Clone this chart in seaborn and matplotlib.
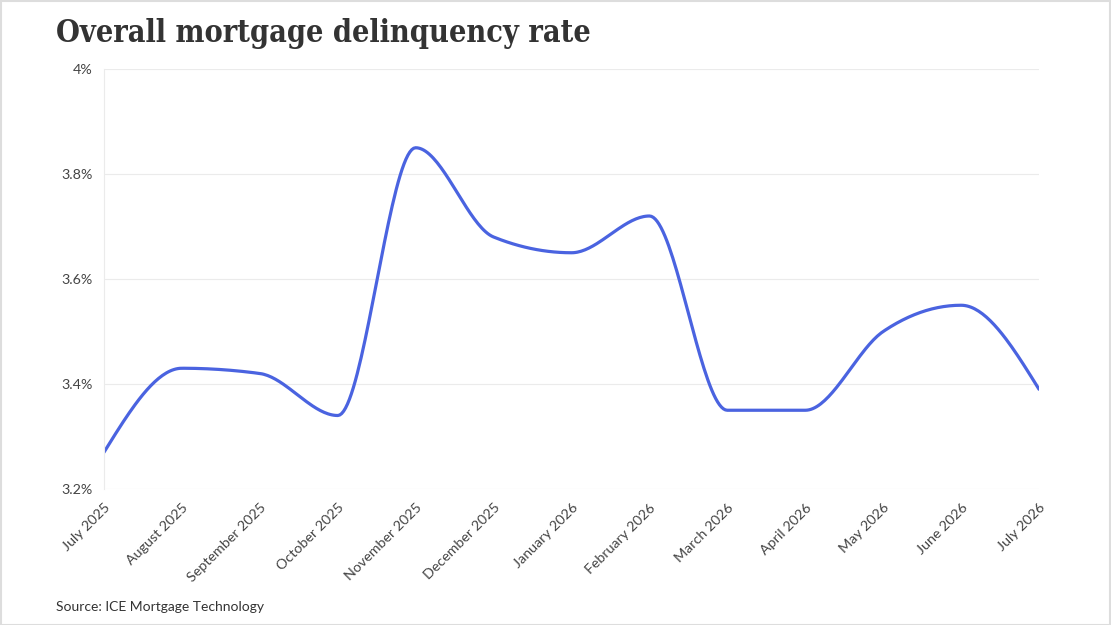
import numpy as np
import pandas as pd
import seaborn as sns
from matplotlib import pyplot as plt
from matplotlib.ticker import FuncFormatter

months = ['July 2025', 'August 2025', 'September 2025', 'October 2025',
          'November 2025', 'December 2025', 'January 2026', 'February 2026',
          'March 2026', 'April 2026', 'May 2026', 'June 2026', 'July 2026']
rates = [3.27, 3.43, 3.42, 3.34, 3.85, 3.68, 3.65, 3.72,
         3.35, 3.35, 3.50, 3.55, 3.39]
y_ticks = [3.2, 3.4, 3.6, 3.8, 4.0]


def monotone_curve(x, y, steps=40):
    # same smoothing as d3.curveMonotoneX, only used for drawing
    x = np.asarray(x, float)
    y = np.asarray(y, float)
    h = np.diff(x)
    s = np.diff(y) / h
    t = np.zeros(len(x))
    for i in range(1, len(x) - 1):
        p = (s[i - 1] * h[i] + s[i] * h[i - 1]) / (h[i - 1] + h[i])
        t[i] = (np.sign(s[i - 1]) + np.sign(s[i])) * min(
            abs(s[i - 1]), abs(s[i]), 0.5 * abs(p))
    t[0] = (3 * s[0] - t[1]) / 2
    t[-1] = (3 * s[-1] - t[-2]) / 2
    xs, ys = [], []
    for i in range(len(x) - 1):
        u = np.linspace(0, 1, steps, endpoint=False)
        h00 = 2 * u**3 - 3 * u**2 + 1
        h10 = u**3 - 2 * u**2 + u
        h01 = -2 * u**3 + 3 * u**2
        h11 = u**3 - u**2
        xs.append(x[i] + u * h[i])
        ys.append(h00 * y[i] + h10 * h[i] * t[i] + h01 * y[i + 1] + h11 * h[i] * t[i + 1])
    xs.append([x[-1]])
    ys.append([y[-1]])
    return np.concatenate(xs), np.concatenate(ys)


df = pd.DataFrame({'Month': months, 'Rate': rates})
df['pos'] = range(len(df))
cx, cy = monotone_curve(df['pos'], df['Rate'])
curve = pd.DataFrame({'pos': cx, 'Rate': cy})

sns.set_style('white')
plt.rcParams['font.family'] = ['Lato', 'DejaVu Sans']

fig = plt.figure(figsize=(11.11, 6.25), dpi=100)
ax = fig.add_axes([104 / 1111, 1 - 489 / 625, 935 / 1111, 420 / 625])

sns.lineplot(data=curve, x='pos', y='Rate', ax=ax, color='#4a63e0',
             linewidth=2.3, estimator=None, sort=False)

ax.set_xlim(0, len(months) - 1)
ax.set_ylim(3.2, 4.0)
ax.set_yticks(y_ticks)
ax.yaxis.set_major_formatter(FuncFormatter(lambda v, _: f'{v:g}%'))
ax.set_xticks(df['pos'])
ax.set_xticklabels(months, rotation=45, ha='right', rotation_mode='anchor')
ax.set_xlabel('')
ax.set_ylabel('')

ax.grid(axis='y', color='#ebebeb', linewidth=0.8)
ax.set_axisbelow(True)
for side in ['top', 'right', 'bottom']:
    ax.spines[side].set_visible(False)
ax.spines['left'].set_color('#ebebeb')
ax.spines['left'].set_linewidth(0.8)
ax.tick_params(axis='both', colors='#ebebeb', length=5, width=0.8,
               labelcolor='#444444', labelsize=10.3, pad=3)
ax.tick_params(axis='x', pad=4)

fig.text(56 / 1111, 1 - 42 / 625, 'Overall mortgage delinquency rate',
         family=['DejaVu Serif'], stretch='condensed', weight='bold',
         fontsize=22, color='#333333')
fig.text(56 / 1111, 1 - 611 / 625, 'Source: ICE Mortgage Technology',
         fontsize=10, color='#333333')

fig.patches.append(plt.Rectangle((0.0005, 0.0008), 0.999, 0.9984,
                                 transform=fig.transFigure, fill=False,
                                 edgecolor='#dddddd', linewidth=1.5))

fig.savefig('out.png', dpi=100)
